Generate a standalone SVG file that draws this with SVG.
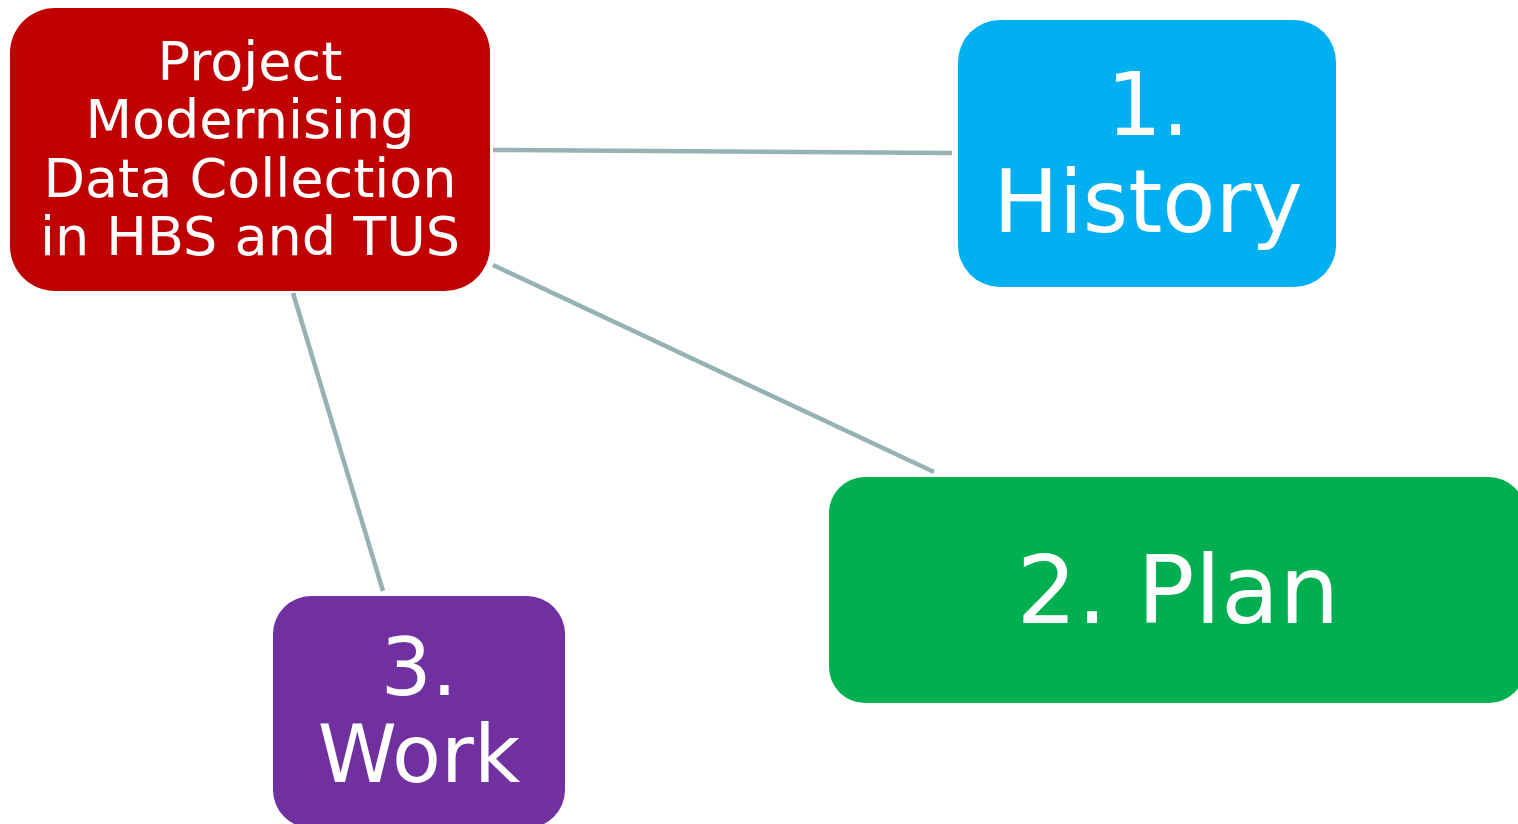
<svg xmlns="http://www.w3.org/2000/svg" width="1518" height="824" viewBox="0 0 1518 824">
<style>
.lbl{font-family:"DejaVu Sans","Verdana",sans-serif;fill:#FFFFFF;text-anchor:middle}
.conn line{stroke:#96B2B5;stroke-width:4.5;fill:none}
</style>
<rect width="1518" height="824" fill="#FFFFFF"/>
<g id="connectors" class="conn">
<line x1="493" y1="150" x2="952" y2="153"/>
<line x1="493" y1="265" x2="934" y2="472"/>
<line x1="293" y1="293" x2="383" y2="591"/>
</g>
<g id="node-project">
<rect x="10" y="8" width="480" height="283" rx="45" fill="#C00000"/>
<text class="lbl" font-size="54" x="250" y="80">Project</text>
<text class="lbl" font-size="54" x="250" y="138">Modernising</text>
<text class="lbl" font-size="54" x="250" y="197">Data Collection</text>
<text class="lbl" font-size="54" x="250" y="255">in HBS and TUS</text>
</g>
<g id="node-history">
<rect x="958" y="20" width="378" height="267" rx="42" fill="#00B0F0"/>
<text class="lbl" font-size="87" x="1148" y="135">1.</text>
<text class="lbl" font-size="87" x="1148" y="232">History</text>
</g>
<g id="node-plan">
<rect x="829" y="477" width="696" height="226" rx="36" fill="#00B050"/>
<text class="lbl" font-size="95" x="1178" y="623">2. Plan</text>
</g>
<g id="node-work">
<rect x="273" y="596" width="292" height="232" rx="38" fill="#7030A0"/>
<text class="lbl" font-size="80" x="419" y="695">3.</text>
<text class="lbl" font-size="80" x="419" y="782">Work</text>
</g>
</svg>
